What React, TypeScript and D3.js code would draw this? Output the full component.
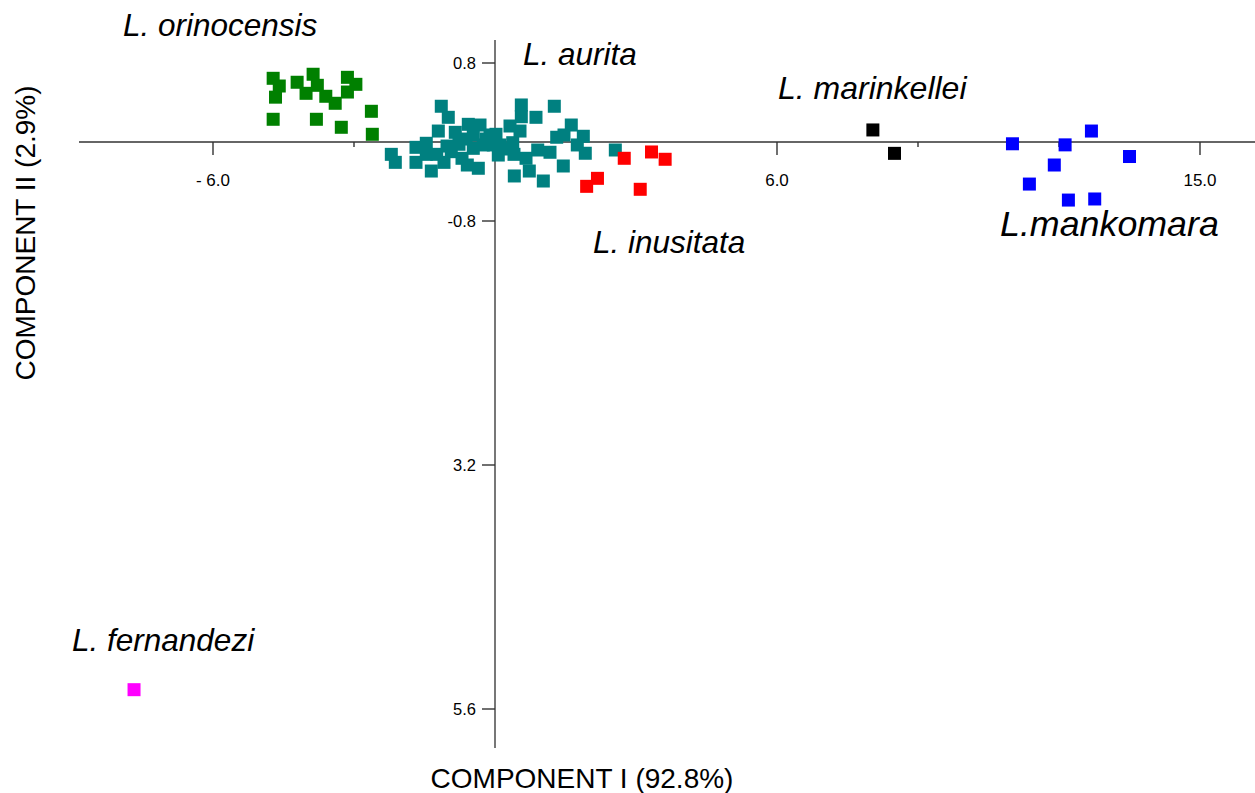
import React from 'react';
import * as d3 from 'd3';

// PCA scores (component I, component II)
const orinocensis: [number, number][] = [
  [-4.72, 0.645], [-4.59, 0.567], [-4.67, 0.454], [-4.72, 0.23], [-4.21, 0.605],
  [-3.87, 0.686], [-3.78, 0.574], [-4.02, 0.493], [-3.6, 0.463], [-3.4, 0.392],
  [-3.14, 0.655], [-2.96, 0.584], [-3.14, 0.506], [-3.8, 0.23], [-3.27, 0.149],
  [-2.63, 0.311], [-2.61, 0.078],
];

const aurita: [number, number][] = [
  [-2.206, -0.125], [-2.121, -0.206], [-1.681, -0.054], [-1.681, -0.206], [-1.462, -0.013],
  [-1.462, -0.125], [-1.355, -0.294], [-1.24, -0.125], [-1.085, -0.206], [-1.143, 0.362],
  [-0.994, 0.25], [-1.206, 0.111], [-0.845, 0.098], [-0.766, -0.023], [-0.93, -0.098],
  [-0.702, -0.165], [-0.568, 0.179], [-0.319, 0.172], [-0.462, 0.071], [-0.462, -0.064],
  [-0.589, -0.233], [-0.355, -0.266], [-0.249, -0.03], [-0.106, 0.071], [-0.036, -0.03],
  [0.07, -0.132], [0.021, 0.078], [0.106, -0.03], [0.319, 0.162], [0.532, 0.111],
  [0.377, -0.007], [0.404, -0.125], [0.56, 0.375], [0.56, 0.256], [0.872, 0.25],
  [1.262, 0.362], [0.66, -0.165], [0.909, -0.081], [1.17, -0.104], [1.313, 0.048],
  [1.468, 0.071], [1.623, 0.172], [1.879, 0.058], [1.751, -0.03], [1.921, -0.114],
  [0.73, -0.294], [0.411, -0.344], [1.028, -0.395], [1.453, -0.243], [2.56, -0.081],
  [-0.191, 0.03], [0.234, -0.071], [-0.617, 0.03], [-1.021, -0.041],
];

const inusitata: [number, number][] = [
  [2.75, -0.165], [3.33, -0.101], [3.62, -0.175], [2.18, -0.368], [1.95, -0.449], [3.09, -0.479],
];

const marinkellei: [number, number][] = [[8.04, 0.122], [8.5, -0.115]];

const mankomara: [number, number][] = [
  [11.01, -0.018], [12.13, -0.029], [12.69, 0.111], [13.5, -0.147],
  [11.9, -0.233], [11.37, -0.426], [12.2, -0.588], [12.76, -0.577],
];

const fernandezi: [number, number][] = [[-7.68, -5.41]];

const xMajorTicks = [-6, 6, 15];
const xMajorLabels = ['- 6.0', '6.0', '15.0'];
const xMinorTicks = [-3, 9, 12];
const yTicks = [0.8, -0.8, -3.2, -5.6];
const yTickLabels = ['0.8', '-0.8', '3.2', '5.6'];

const groups = [
  { name: 'orinocensis', color: '#008000', data: orinocensis },
  { name: 'aurita', color: '#008080', data: aurita },
  { name: 'inusitata', color: '#ff0000', data: inusitata },
  { name: 'marinkellei', color: '#000000', data: marinkellei },
  { name: 'mankomara', color: '#0000ff', data: mankomara },
  { name: 'fernandezi', color: '#ff00ff', data: fernandezi },
];

const width = 1255;
const height = 793;
const font = '"Liberation Sans", Arial, sans-serif';

export default function App() {
  const x = d3.scaleLinear().domain([0, 15]).range([495, 1200]);
  const y = d3.scaleLinear().domain([0.8, -0.8, -5.6]).range([63, 221, 709]);
  const x0 = x(0);
  const y0 = y(0);
  const size = 13;

  return (
    <svg width={width} height={height} style={{ position: 'absolute', left: 0, top: 0 }} fontFamily={font}>
      <rect width={width} height={height} fill="#fff" />
      {/* axes */}
      <line x1={79} x2={width} y1={y0} y2={y0} stroke="#333" strokeWidth={1.6} />
      <line x1={x0} x2={x0} y1={40} y2={748} stroke="#555" strokeWidth={1.6} />
      {xMajorTicks.map((t, i) => (
        <g key={'xm' + t}>
          <line x1={x(t)} x2={x(t)} y1={y0} y2={y0 + 13} stroke="#333" strokeWidth={1.4} />
          <text x={x(t)} y={186} textAnchor="middle" fontSize={17}>{xMajorLabels[i]}</text>
        </g>
      ))}
      {xMinorTicks.map(t => (
        <line key={'xn' + t} x1={x(t)} x2={x(t)} y1={y0} y2={y0 + 5} stroke="#333" strokeWidth={1.4} />
      ))}
      {yTicks.map((t, i) => (
        <g key={'y' + t}>
          <line x1={x0 - 13} x2={x0} y1={y(t)} y2={y(t)} stroke="#333" strokeWidth={1.4} />
          <text x={x0 - 19} y={y(t)} dy="0.36em" textAnchor="end" fontSize={16.5}>{yTickLabels[i]}</text>
        </g>
      ))}
      {/* points */}
      {groups.map(g => (
        <g key={g.name} fill={g.color}>
          {g.data.map((d, i) => (
            <rect key={i} x={x(d[0]) - size / 2} y={y(d[1]) - size / 2} width={size} height={size} />
          ))}
        </g>
      ))}
      {/* species labels */}
      <g fontStyle="italic" fontSize={31.5}>
        <text x={123} y={36}>L. orinocensis</text>
        <text x={523} y={65}>L. aurita</text>
        <text x={778} y={99} fontSize={32}>L. marinkellei</text>
        <text x={593} y={253}>L. inusitata</text>
        <text x={72} y={651}>L. fernandezi</text>
        <text x={1000} y={236} fontSize={35.8}>L.mankomara</text>
      </g>
      {/* axis titles */}
      <text x={582} y={788} textAnchor="middle" fontSize={28}>COMPONENT I (92.8%)</text>
      <text transform="translate(35,233) rotate(-90)" textAnchor="middle" fontSize={28}>COMPONENT II (2.9%)</text>
    </svg>
  );
}
